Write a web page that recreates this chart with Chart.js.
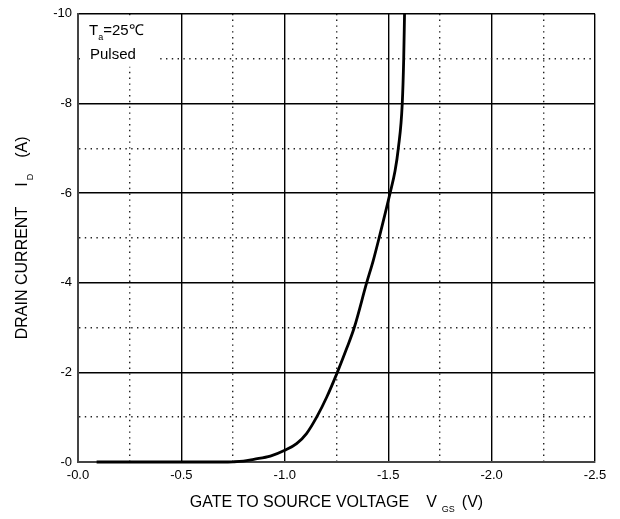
<!DOCTYPE html>
<html><head><meta charset="utf-8">
<style>html,body{margin:0;padding:0;background:#fff}#wrap{width:620px;height:519px;position:relative}</style>
<script src="https://cdn.jsdelivr.net/npm/chart.js@4/dist/chart.umd.min.js"></script>
</head><body><div id="wrap"><canvas id="c" width="620" height="519"></canvas></div>
<script>
// Gate-to-source voltage V_GS (V) and drain current I_D (A)
const vgs    = [-0.09, -0.70, -0.75, -0.80, -0.85, -0.93, -1.00, -1.057, -1.106, -1.154, -1.203, -1.254, -1.299, -1.336, -1.396, -1.428, -1.456, -1.509, -1.533, -1.549, -1.568, -1.575, -1.579];
const idrain = [0, 0, -0.005, -0.02, -0.06, -0.13, -0.26, -0.41, -0.64, -1.0, -1.45, -2.0, -2.53, -3.0, -4.0, -4.5, -5.0, -6.0, -6.49, -7.0, -8.0, -9.0, -10.0];

const xTickValues = [0, -0.25, -0.5, -0.75, -1.0, -1.25, -1.5, -1.75, -2.0, -2.25, -2.5];
const xTickLabels = ['-0.0', '', '-0.5', '', '-1.0', '', '-1.5', '', '-2.0', '', '-2.5'];
const yTickValues = [0, -1, -2, -3, -4, -5, -6, -7, -8, -9, -10];
const yTickLabels = ['-0', '', '-2', '', '-4', '', '-6', '', '-8', '', '-10'];

const FONT = 'Liberation Sans, Arial, Helvetica, sans-serif';
Chart.defaults.font.family = FONT;
Chart.defaults.color = '#000';

const points = vgs.map((v, i) => ({x: v, y: idrain[i]}));

function drawRich(ctx, pieces) {
  let x = 0;
  for (const p of pieces) {
    x += p.gap || 0;
    ctx.font = p.font;
    ctx.fillText(p.t, x, p.dy || 0);
    x += ctx.measureText(p.t).width;
  }
}
function richWidth(ctx, pieces) {
  let w = 0;
  for (const p of pieces) { w += p.gap || 0; ctx.font = p.font; w += ctx.measureText(p.t).width; }
  return w;
}

const annot = {
  id: 'annot',
  beforeDatasetsDraw(chart) {
    const {ctx, chartArea: a} = chart;
    ctx.save();
    ctx.fillStyle = '#fff';
    ctx.fillRect(a.left + 2, a.top + 2, 77, 51);
    ctx.restore();
  },
  afterDraw(chart) {
    const {ctx, chartArea: a} = chart;
    ctx.save();
    ctx.fillStyle = '#000';
    ctx.textBaseline = 'alphabetic';
    ctx.textAlign = 'left';
    ctx.save();
    ctx.translate(a.left + 11, a.top + 21);
    drawRich(ctx, [
      {t: 'T', font: '15px ' + FONT},
      {t: 'a', font: '9px ' + FONT, dy: 5},
      {t: '=25℃', font: '15px ' + FONT}
    ]);
    ctx.restore();
    ctx.font = '15px ' + FONT;
    ctx.fillText('Pulsed', a.left + 12, a.top + 45);

    const xp = [
      {t: 'GATE TO SOURCE VOLTAGE', font: '16px ' + FONT},
      {t: 'V', font: '16px ' + FONT, gap: 17},
      {t: 'GS', font: '9px ' + FONT, gap: 5, dy: 5},
      {t: '(V)', font: '16px ' + FONT, gap: 7}
    ];
    const xw = richWidth(ctx, xp);
    ctx.save();
    ctx.translate((a.left + a.right) / 2 - xw / 2, a.bottom + 45);
    drawRich(ctx, xp);
    ctx.restore();

    const yp = [
      {t: 'DRAIN CURRENT', font: '16px ' + FONT},
      {t: 'I', font: '16px ' + FONT, gap: 20},
      {t: 'D', font: '9px ' + FONT, gap: 2, dy: 6},
      {t: '(A)', font: '16px ' + FONT, gap: 16}
    ];
    const yw = richWidth(ctx, yp);
    ctx.save();
    ctx.translate(27, (a.top + a.bottom) / 2 + yw / 2);
    ctx.rotate(-Math.PI / 2);
    drawRich(ctx, yp);
    ctx.restore();
    ctx.restore();
  }
};

const isMinor = c => c.type === 'tick' && c.index % 2 === 1;

new Chart(document.getElementById('c'), {
  type: 'scatter',
  data: {
    datasets: [{
      data: points,
      showLine: true,
      borderColor: '#000',
      borderWidth: 2.8,
      pointRadius: 0,
      cubicInterpolationMode: 'monotone',
      clip: false
    }]
  },
  options: {
    responsive: false,
    animation: false,
    events: [],
    layout: {padding: {left: 0, top: 12, right: 25, bottom: 0}},
    plugins: {legend: {display: false}, tooltip: {enabled: false}},
    scales: {
      x: {
        type: 'linear', min: -2.5, max: 0, reverse: true,
        afterBuildTicks: s => { s.ticks = xTickValues.map(v => ({value: v})); },
        afterFit: s => { s.height = 57; },
        ticks: {
          autoSkip: false, maxRotation: 0, padding: 6,
          font: {size: 13, family: FONT}, color: '#000',
          callback: (v, i) => xTickLabels[i]
        },
        grid: {
          drawTicks: false,
          color: c => isMinor(c) ? '#222' : '#000',
          lineWidth: 1.4
        },
        border: {display: true, color: '#444', width: 2, dash: c => isMinor(c) ? [1.4, 4.4] : []}
      },
      y: {
        type: 'linear', min: -10, max: 0, reverse: true,
        afterBuildTicks: s => { s.ticks = yTickValues.map(v => ({value: v})); },
        afterFit: s => { s.width = 78; },
        ticks: {
          autoSkip: false, padding: 6,
          font: {size: 13, family: FONT}, color: '#000',
          callback: (v, i) => yTickLabels[i]
        },
        grid: {
          drawTicks: false,
          color: c => isMinor(c) ? '#222' : '#000',
          lineWidth: 1.4
        },
        border: {display: true, color: '#444', width: 2, dash: c => isMinor(c) ? [1.4, 4.4] : []}
      }
    }
  },
  plugins: [annot]
});
</script>
</body></html>
